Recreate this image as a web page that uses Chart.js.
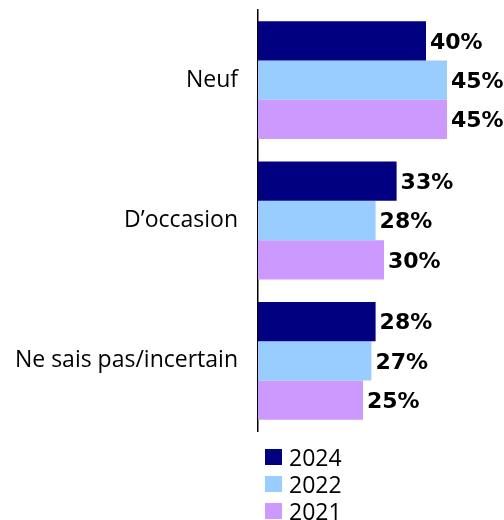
<!DOCTYPE html>
<html>
<head>
<meta charset="utf-8">
<script src="https://cdn.jsdelivr.net/npm/chart.js@4"></script>
<style>
  html, body { margin: 0; padding: 0; background: #fff; }
  #wrap { position: relative; width: 504px; height: 520px; }
  #legend {
    position: absolute; left: 265px; top: 443px;
    font-family: "Open Sans", sans-serif; font-size: 23px; color: #000;
  }
  #legend .item { display: flex; align-items: center; height: 27px; }
  #legend .box { width: 17px; height: 16px; margin-right: 7px; }
</style>
</head>
<body>
<div id="wrap">
  <canvas id="answerChart" width="504" height="520"></canvas>
  <div id="legend"></div>
</div>
<script>
// data
const categories = ['Neuf', 'D\u2019occasion', 'Ne sais pas/incertain'];
const years = ['2024', '2022', '2021'];
const values2024 = [40, 33, 28];
const values2022 = [45, 28, 27];
const values2021 = [45, 30, 25];
const colors = ['#000080', '#99ccff', '#cc99ff'];

const seriesValues = [values2024, values2022, values2021];

// value labels at the end of each bar
const barLabels = {
  id: 'barLabels',
  afterDatasetsDraw(chart) {
    const c = chart.ctx;
    c.save();
    c.font = 'bold 22px "DejaVu Sans"';
    c.fillStyle = '#000';
    c.textBaseline = 'middle';
    c.textAlign = 'left';
    chart.data.datasets.forEach((ds, i) => {
      chart.getDatasetMeta(i).data.forEach((bar, j) => {
        c.fillText(ds.data[j] + '%', bar.x + 4, bar.y + 2);
      });
    });
    c.restore();
  }
};

const ctx = document.getElementById('answerChart');

new Chart(ctx, {
  type: 'bar',
  data: {
    labels: categories,
    datasets: years.map((y, i) => ({
      label: y,
      data: seriesValues[i],
      backgroundColor: colors[i],
      borderWidth: 0
    }))
  },
  options: {
    responsive: false,
    animation: false,
    indexAxis: 'y',
    categoryPercentage: 0.84,
    barPercentage: 1,
    layout: {
      padding: { top: 10, right: 15, bottom: 89, left: 0 }
    },
    plugins: {
      legend: { display: false },
      tooltip: { enabled: false }
    },
    scales: {
      x: {
        display: false,
        min: 0,
        max: 55
      },
      y: {
        afterFit(scale) {
          scale.width = 258;
          scale.paddingTop = 0;
          scale.paddingBottom = 0;
        },
        grid: { display: false, drawTicks: false },
        border: { display: true, color: '#000', width: 1.5 },
        ticks: {
          padding: 20,
          color: '#000',
          font: { family: 'Open Sans', size: 23 }
        }
      }
    }
  },
  plugins: [barLabels]
});

// legend logic
const legend = document.getElementById('legend');
years.forEach((y, i) => {
  legend.innerHTML += `
    <div class="item">
      <div class="box" style="background:${colors[i]}"></div>
      <span>${y}</span>
    </div>`;
});
</script>
</body>
</html>
